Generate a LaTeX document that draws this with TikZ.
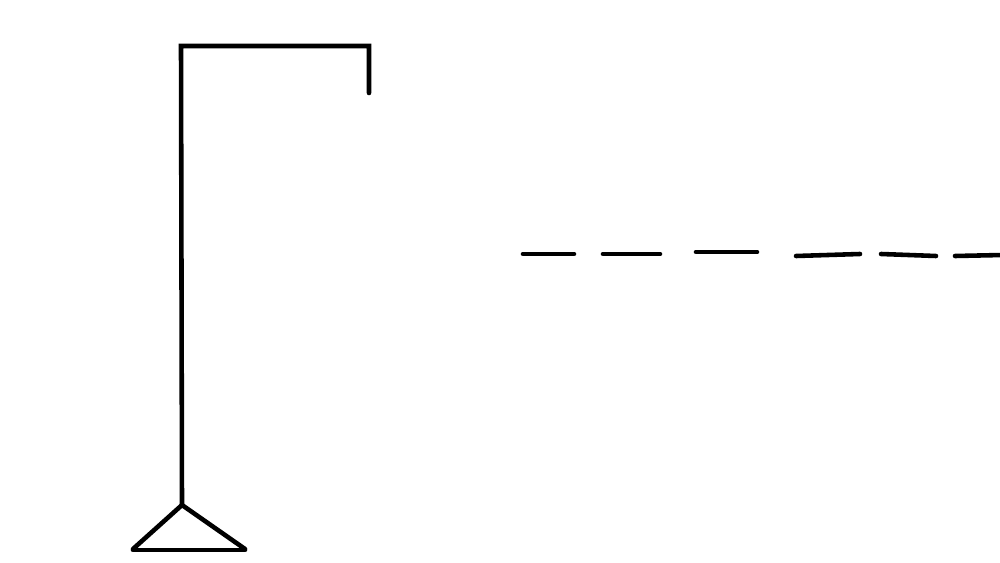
\documentclass[tikz,border=0pt]{standalone}
\usepackage{tikz}
\usetikzlibrary{calc}

\begin{document}
\begin{tikzpicture}[x=0.02cm,y=-0.02cm]
        \tikzstyle{stroke}=[draw=black,line width=2.6pt,line cap=round]
        \useasboundingbox (0,0) rectangle (1000,563);
        % gallows
        \coordinate (foot) at (182,505);
        \coordinate (top) at (181,46);
        \coordinate (arm) at (369,46);
        \coordinate (rope) at (369,93);
        \coordinate (baseL) at (133,549);
        \coordinate (baseR) at (245,549);
        \path[stroke] (foot) -- (top) -- (arm) -- (rope);
        \path[stroke] (baseL) -- (foot) -- (baseR);
        \path[stroke] (133,550) -- (245,550);
        % letter blanks
        \foreach \xa/\ya/\xb/\yb [count=\i] in {523/254/574/254, 603/254/660/254,
            696/252/757/252, 796/256/860/254, 881/254/936/256, 955/256/1003/255}
          {
            \coordinate (b\i l) at (\xa,\ya);
            \coordinate (b\i r) at (\xb,\yb);
            \path[stroke] (b\i l) -- (b\i r);
          }
      \end{tikzpicture}
\end{document}
